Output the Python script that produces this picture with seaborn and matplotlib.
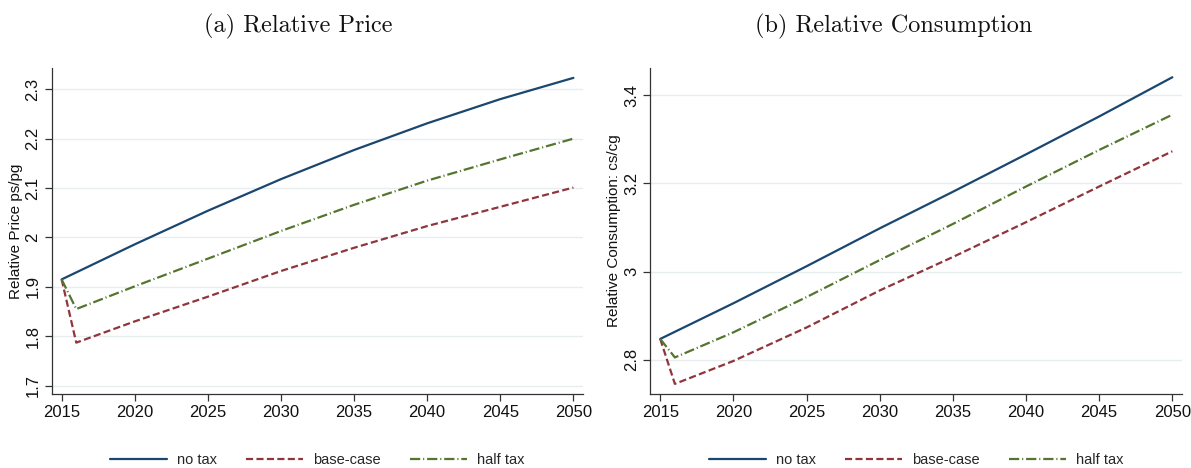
import matplotlib
matplotlib.use("Agg")
import matplotlib.pyplot as plt
import seaborn as sns
import pandas as pd

# ---------------- data ----------------
years = [2015, 2016, 2020, 2025, 2030, 2035, 2040, 2045, 2050]
series = ["no tax", "base-case", "half tax"]

price_no_tax = [1.915, None, 1.986, 2.054, 2.118, 2.177, 2.231, 2.280, 2.323]
price_base = [1.915, 1.787, 1.830, 1.880, 1.932, 1.979, 2.023, 2.062, 2.101]
price_half = [1.915, 1.855, 1.901, 1.957, 2.013, 2.066, 2.115, 2.158, 2.200]

cons_no_tax = [2.847, None, 2.928, 3.012, 3.098, 3.181, 3.266, 3.352, 3.441]
cons_base = [2.847, 2.745, 2.797, 2.873, 2.957, 3.033, 3.112, 3.193, 3.273]
cons_half = [2.847, 2.805, 2.862, 2.942, 3.026, 3.108, 3.193, 3.276, 3.356]

x_ticks = [2015, 2020, 2025, 2030, 2035, 2040, 2045, 2050]
price_ticks = [1.7, 1.8, 1.9, 2.0, 2.1, 2.2, 2.3]
price_tick_labels = ["1.7", "1.8", "1.9", "2", "2.1", "2.2", "2.3"]
cons_ticks = [2.8, 3.0, 3.2, 3.4]
cons_tick_labels = ["2.8", "3", "3.2", "3.4"]

titles = ["(a) Relative Price", "(b) Relative Consumption"]
ylabels = ["Relative Price ps/pg", "Relative Consumption: cs/cg"]


def long_df(a, b, c):
    rows = []
    for name, vals in zip(series, [a, b, c]):
        for yr, v in zip(years, vals):
            if v is not None:
                rows.append({"year": yr, "value": v, "series": name})
    return pd.DataFrame(rows)


df_price = long_df(price_no_tax, price_base, price_half)
df_cons = long_df(cons_no_tax, cons_base, cons_half)

# ---------------- style ----------------
sns.set_style("white")
plt.rcParams["font.family"] = ["Liberation Sans", "DejaVu Sans"]

palette = {"no tax": "#1a476f", "base-case": "#90353b", "half tax": "#55752f"}
dashes = {"no tax": "", "base-case": (3.2, 1.5), "half tax": (4.6, 1.3, 0.5, 1.3)}

fig = plt.figure(figsize=(11.91, 4.68), dpi=100)
ax1 = fig.add_axes([0.0434, 0.1581, 0.4459, 0.6966])
ax2 = fig.add_axes([0.5460, 0.1581, 0.4462, 0.6966])

configs = [
    (ax1, df_price, price_ticks, price_tick_labels, (1.683, 2.343)),
    (ax2, df_cons, cons_ticks, cons_tick_labels, (2.722, 3.462)),
]
title_x = [0.25, 0.75]

for i, (ax, df, yt, ytl, ylim) in enumerate(configs):
    sns.lineplot(data=df, x="year", y="value", hue="series", style="series",
                 hue_order=series, style_order=series, palette=palette,
                 dashes=dashes, linewidth=1.6, ax=ax, legend=True)
    handles, labels = ax.get_legend_handles_labels()
    ax.get_legend().remove()

    ax.set_xlim(2014.32, 2050.64)
    ax.set_ylim(*ylim)
    ax.set_xticks(x_ticks)
    ax.set_xticklabels([str(t) for t in x_ticks])
    ax.set_yticks(yt)
    ax.set_yticklabels(ytl, rotation=90, va="center")
    ax.grid(axis="y", color="#e6eef0", linewidth=1.0)
    ax.grid(axis="x", visible=False)
    ax.set_axisbelow(True)
    for s in ["top", "right"]:
        ax.spines[s].set_visible(False)
    for s in ["left", "bottom"]:
        ax.spines[s].set_color("#333333")
        ax.spines[s].set_linewidth(0.9)
    ax.tick_params(axis="both", direction="out", length=5, width=0.9,
                   color="#333333", labelsize=12, pad=3, labelcolor="#111111",
                   left=True, bottom=True)
    ax.set_xlabel("")
    ax.set_ylabel(ylabels[i], fontsize=11, labelpad=2, color="#111111")
    fig.text(title_x[i], 0.944, titles[i], fontsize=17.5, family="cmr10",
             ha="center", va="center", color="#111111")

    ax.legend(handles, labels, loc="upper center", bbox_to_anchor=(0.5, -0.14),
              ncol=3, frameon=False, fontsize=10.5, handlelength=3.9,
              columnspacing=2.0, handletextpad=0.7)

fig.savefig("out.png", dpi=100)
